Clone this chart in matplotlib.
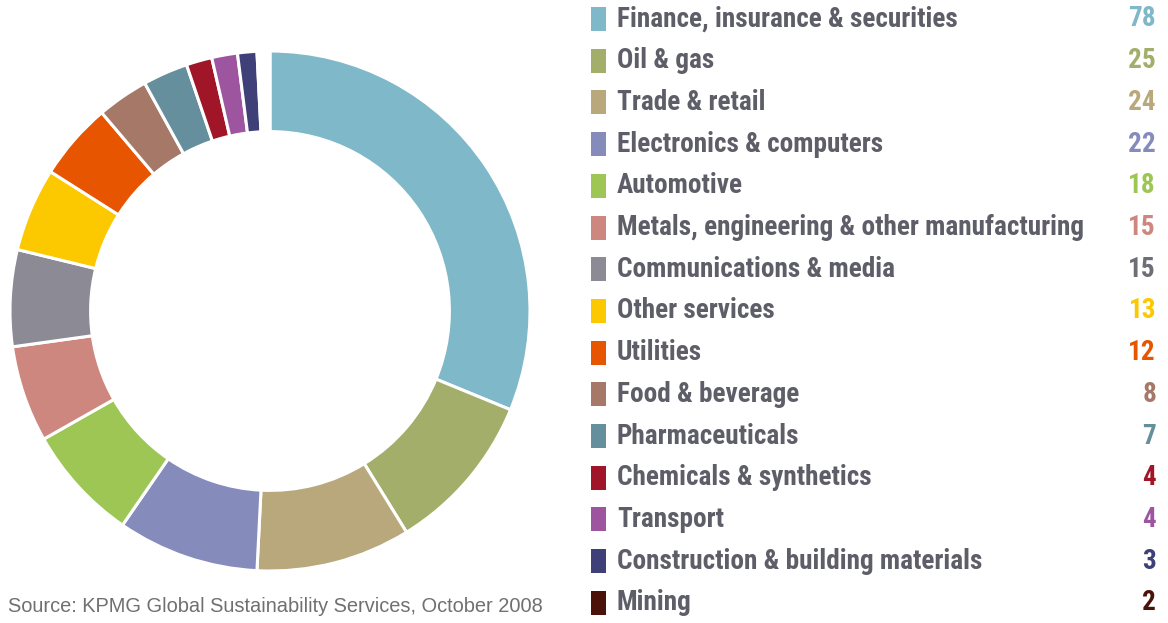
import matplotlib
matplotlib.use("Agg")
import matplotlib.pyplot as plt
from matplotlib.patches import Rectangle

sectors = [
    "Finance, insurance & securities",
    "Oil & gas",
    "Trade & retail",
    "Electronics & computers",
    "Automotive",
    "Metals, engineering & other manufacturing",
    "Communications & media",
    "Other services",
    "Utilities",
    "Food & beverage",
    "Pharmaceuticals",
    "Chemicals & synthetics",
    "Transport",
    "Construction & building materials",
    "Mining",
]
counts = [78, 25, 24, 22, 18, 15, 15, 13, 12, 8, 7, 4, 4, 3, 2]
colors = [
    "#7fb8c8", "#a2ae6a", "#b8a87c", "#858bbb", "#9dc655",
    "#ce877f", "#8c8a94", "#fcc800", "#e85500", "#a57868",
    "#658f9c", "#a01528", "#9e55a0", "#404078", "#4a1208",
]
value_colors = list(colors)
value_colors[6] = "#6e6e78"
# the mining wedge is left blank in the ring
ring_colors = colors[:-1] + ["white"]
source = "Source: KPMG Global Sustainability Services, October 2008"

W, H = 1168, 623
fig = plt.figure(figsize=(W / 100, H / 100), dpi=100)
ax = fig.add_axes([0, 0, 1, 1])

cx, cy, R = 270, H - 311, 260
ax.pie(counts, colors=ring_colors, startangle=90, counterclock=False,
       center=(cx, cy), radius=R,
       wedgeprops=dict(width=R * 0.31, edgecolor="white", linewidth=2.2))

ax.set_xlim(0, W)
ax.set_ylim(0, H)
ax.set_aspect("equal")
ax.axis("off")

label_font = dict(family=["Roboto Condensed", "Roboto", "DejaVu Sans"],
                  fontstretch="condensed", fontweight="bold", fontsize=19.6)
text_color = "#5e5e68"
row0, step = 19, 41.7
for i, (name, n) in enumerate(zip(sectors, counts)):
    yc = H - (row0 + i * step)
    ax.add_patch(Rectangle((591, yc - 12), 15, 24, facecolor=colors[i],
                           edgecolor="none"))
    ax.text(617, yc, name, color=text_color, va="center", ha="left",
            **label_font)
    ax.text(1156, yc, str(n), color=value_colors[i], va="center", ha="right",
            **label_font)

ax.text(8, H - 607, source, fontsize=14.45, color="#707070",
        family=["Liberation Sans", "DejaVu Sans"], va="center", ha="left")

fig.savefig("out.png", dpi=100, facecolor="white")
